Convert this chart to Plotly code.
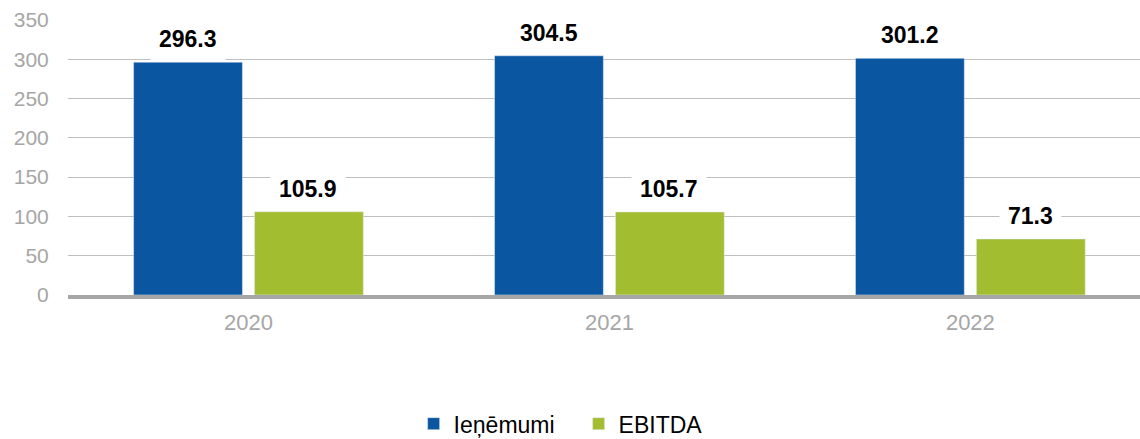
import plotly.graph_objects as go

categories = ["2020", "2021", "2022"]
revenue = [296.3, 304.5, 301.2]
ebitda = [105.9, 105.7, 71.3]
series_names = ["Ieņēmumi", "EBITDA"]
y_ticks = [0, 50, 100, 150, 200, 250, 300, 350]

BLUE = "#0b56a0"
GREEN = "#a3bd31"
FONT = "Liberation Sans, Arial, sans-serif"

fig = go.Figure()
fig.add_trace(go.Bar(x=categories, y=revenue, name=series_names[0],
                     marker=dict(color=BLUE)))
fig.add_trace(go.Bar(x=categories, y=ebitda, name=series_names[1],
                     marker=dict(color=GREEN)))

annotations = []
for series, shift in ((revenue, -60), (ebitda, 60)):
    for i, v in enumerate(series):
        # i is the category index on the category axis
        annotations.append(dict(x=i, y=v, xref="x", yref="y", xshift=shift, yshift=1,
                                yanchor="bottom", text=f"<b>{v:.1f}</b>", showarrow=False,
                                font=dict(size=23, color="black", family=FONT),
                                bgcolor="white", borderpad=8))

fig.update_layout(
    width=1140, height=439,
    margin=dict(l=68, r=0, t=20, b=144, autoexpand=False),
    paper_bgcolor="white", plot_bgcolor="white",
    barmode="group", bargap=0.33, bargroupgap=0.1,
    font=dict(family=FONT, size=21, color="#a6a6a6"),
    annotations=annotations,
    showlegend=True,
    legend=dict(orientation="h", x=0.3224, xanchor="left", y=-0.468, yanchor="middle",
                entrywidth=120, entrywidthmode="pixels",
                font=dict(size=23, color="black", family=FONT)),
    xaxis=dict(type="category", range=[-0.5, 2.47], showline=True, linecolor="#a6a6a6",
               linewidth=4, ticks="outside", ticklen=5, tickcolor="rgba(0,0,0,0)",
               tickfont=dict(size=22, color="#a6a6a6"), showgrid=False),
    yaxis=dict(range=[0, 350], tickvals=y_ticks, showgrid=True, gridcolor="#bfbfbf",
               gridwidth=1, zeroline=False, ticks="outside", ticklen=14,
               tickcolor="rgba(0,0,0,0)", tickfont=dict(size=21, color="#a6a6a6")),
)

fig.write_html("out.html", config={"displayModeBar": False},
               post_script="document.body.style.margin='0';")
